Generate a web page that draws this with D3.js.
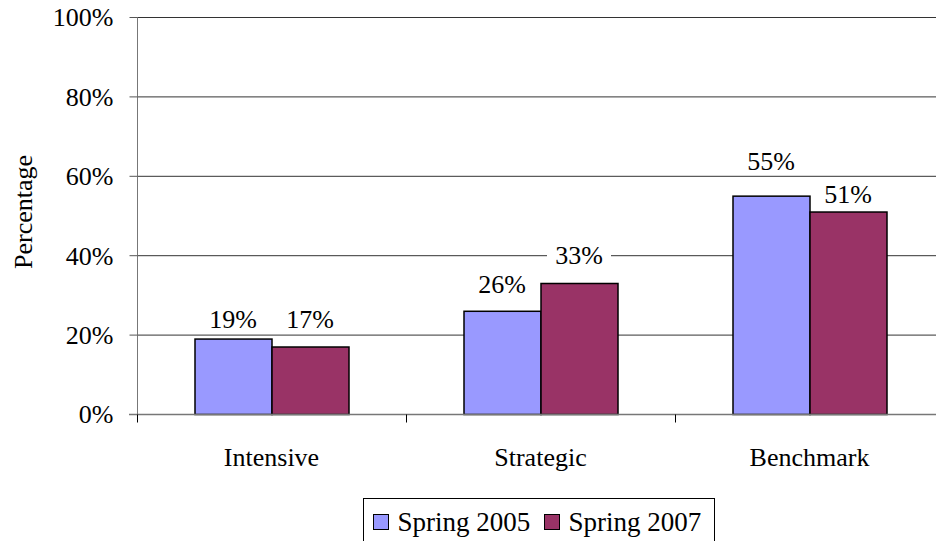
<!DOCTYPE html>
<html>
<head>
<meta charset="utf-8">
<script src="https://cdn.jsdelivr.net/npm/d3@7"></script>
<style>
  body { margin: 0; background: #fff; }
</style>
</head>
<body>
<svg width="936" height="541"></svg>
<script>
var categories = ['Intensive', 'Strategic', 'Benchmark'];
var seriesNames = ['Spring 2005', 'Spring 2007'];
var spring2005 = [19, 26, 55];
var spring2007 = [17, 33, 51];
var yTicks = [0, 20, 40, 60, 80, 100];
var colors = ['#9999ff', '#993366'];
// distance (px) between bar top and label baseline, as placed in the original
var labelGap = [[11, 18, 26], [19, 19, 9]];

var FONT = '"Liberation Serif", "Times New Roman", Times, serif';

var svg = d3.select('svg'),
    margin = {top: 17, left: 137, bottom: 127},
    width = 807,
    height = +svg.attr('height') - margin.top - margin.bottom,
    g = svg.append('g').attr('transform', 'translate(' + margin.left + ',' + margin.top + ')');

var x = d3.scaleBand()
    .domain(categories)
    .range([0, width]);

var x1 = d3.scaleBand()
    .domain(seriesNames)
    .range([x.bandwidth() / 2 - 77, x.bandwidth() / 2 + 77]);

var y = d3.scaleLinear()
    .domain([0, 100])
    .range([height, 0]);

// gridlines
g.selectAll('.grid')
  .data(yTicks.filter(function(d) { return d > 0; }))
  .enter().append('line')
    .attr('x1', 0).attr('x2', width)
    .attr('y1', function(d) { return y(d) + 0.5; })
    .attr('y2', function(d) { return y(d) + 0.5; })
    .attr('stroke', '#333')
    .attr('stroke-width', 1);

// y axis
var yAxis = g.append('g')
    .attr('transform', 'translate(0.5,0)')
    .call(d3.axisLeft(y).tickValues(yTicks).tickSize(8).tickPadding(16)
      .tickFormat(function(d) { return d + '%'; }));
yAxis.select('.domain').attr('stroke', '#777').attr('d', 'M0,' + height + 'V0');
yAxis.selectAll('.tick line').attr('stroke', '#555');
yAxis.selectAll('text')
    .style('font-family', FONT)
    .style('font-size', '26px')
    .attr('fill', '#000')
    .attr('dy', '0.34em');

// bars
var data = categories.map(function(c, i) {
  return [{cat: c, s: seriesNames[0], v: spring2005[i], gap: labelGap[0][i]},
          {cat: c, s: seriesNames[1], v: spring2007[i], gap: labelGap[1][i]}];
});

var groups = g.selectAll('.cat')
  .data(data)
  .enter().append('g')
    .attr('transform', function(d) { return 'translate(' + x(d[0].cat) + ',0)'; });

groups.selectAll('rect')
  .data(function(d) { return d; })
  .enter().append('rect')
    .attr('x', function(d) { return x1(d.s) + 0.5; })
    .attr('y', function(d) { return y(d.v) + 0.5; })
    .attr('width', x1.bandwidth())
    .attr('height', function(d) { return y(0) - y(d.v); })
    .attr('fill', function(d, i) { return colors[i]; })
    .attr('stroke', '#000')
    .attr('stroke-width', 1.5);

// value labels with white background
var labels = groups.selectAll('.lbl')
  .data(function(d) { return d; })
  .enter().append('g')
    .attr('transform', function(d) {
      return 'translate(' + (x1(d.s) + x1.bandwidth() / 2) + ',' + (y(d.v) - d.gap) + ')';
    });
labels.append('rect')
    .attr('x', -32).attr('y', -23)
    .attr('width', 64).attr('height', 28)
    .attr('fill', '#fff');
labels.append('text')
    .attr('text-anchor', 'middle')
    .style('font-family', FONT)
    .style('font-size', '26px')
    .text(function(d) { return d.v + '%'; });

// x axis
var xAxisG = g.append('g').attr('transform', 'translate(0,' + (height + 0.5) + ')');
xAxisG.append('line')
    .attr('x1', -8).attr('x2', width)
    .attr('stroke', '#777').attr('stroke-width', 1.5);
xAxisG.selectAll('.xt')
  .data(d3.range(categories.length + 1))
  .enter().append('line')
    .attr('x1', function(i) { return i * x.step() + 0.5; })
    .attr('x2', function(i) { return i * x.step() + 0.5; })
    .attr('y1', 0).attr('y2', 8)
    .attr('stroke', '#000');
xAxisG.selectAll('.xl')
  .data(categories)
  .enter().append('text')
    .attr('x', function(d) { return x(d) + x.bandwidth() / 2; })
    .attr('y', 51)
    .attr('text-anchor', 'middle')
    .style('font-family', FONT)
    .style('font-size', '26px')
    .text(function(d) { return d; });

// y title
svg.append('text')
    .attr('transform', 'translate(32,212) rotate(-90)')
    .attr('text-anchor', 'middle')
    .style('font-family', FONT)
    .style('font-size', '26px')
    .text('Percentage');

// legend
var legend = svg.append('g').attr('transform', 'translate(363.5,498.5)');
legend.append('rect')
    .attr('width', 351).attr('height', 60)
    .attr('fill', '#fff').attr('stroke', '#000').attr('stroke-width', 1);
var items = legend.selectAll('.item')
  .data(seriesNames)
  .enter().append('g')
    .attr('transform', function(d, i) { return 'translate(' + (10 + i * 171) + ',0)'; });
items.append('rect')
    .attr('x', 0).attr('y', 16)
    .attr('width', 15).attr('height', 15)
    .attr('fill', function(d, i) { return colors[i]; })
    .attr('stroke', '#000');
items.append('text')
    .attr('x', 24).attr('y', 32)
    .style('font-family', FONT)
    .style('font-size', '27px')
    .text(function(d) { return d; });
</script>
</body>
</html>
